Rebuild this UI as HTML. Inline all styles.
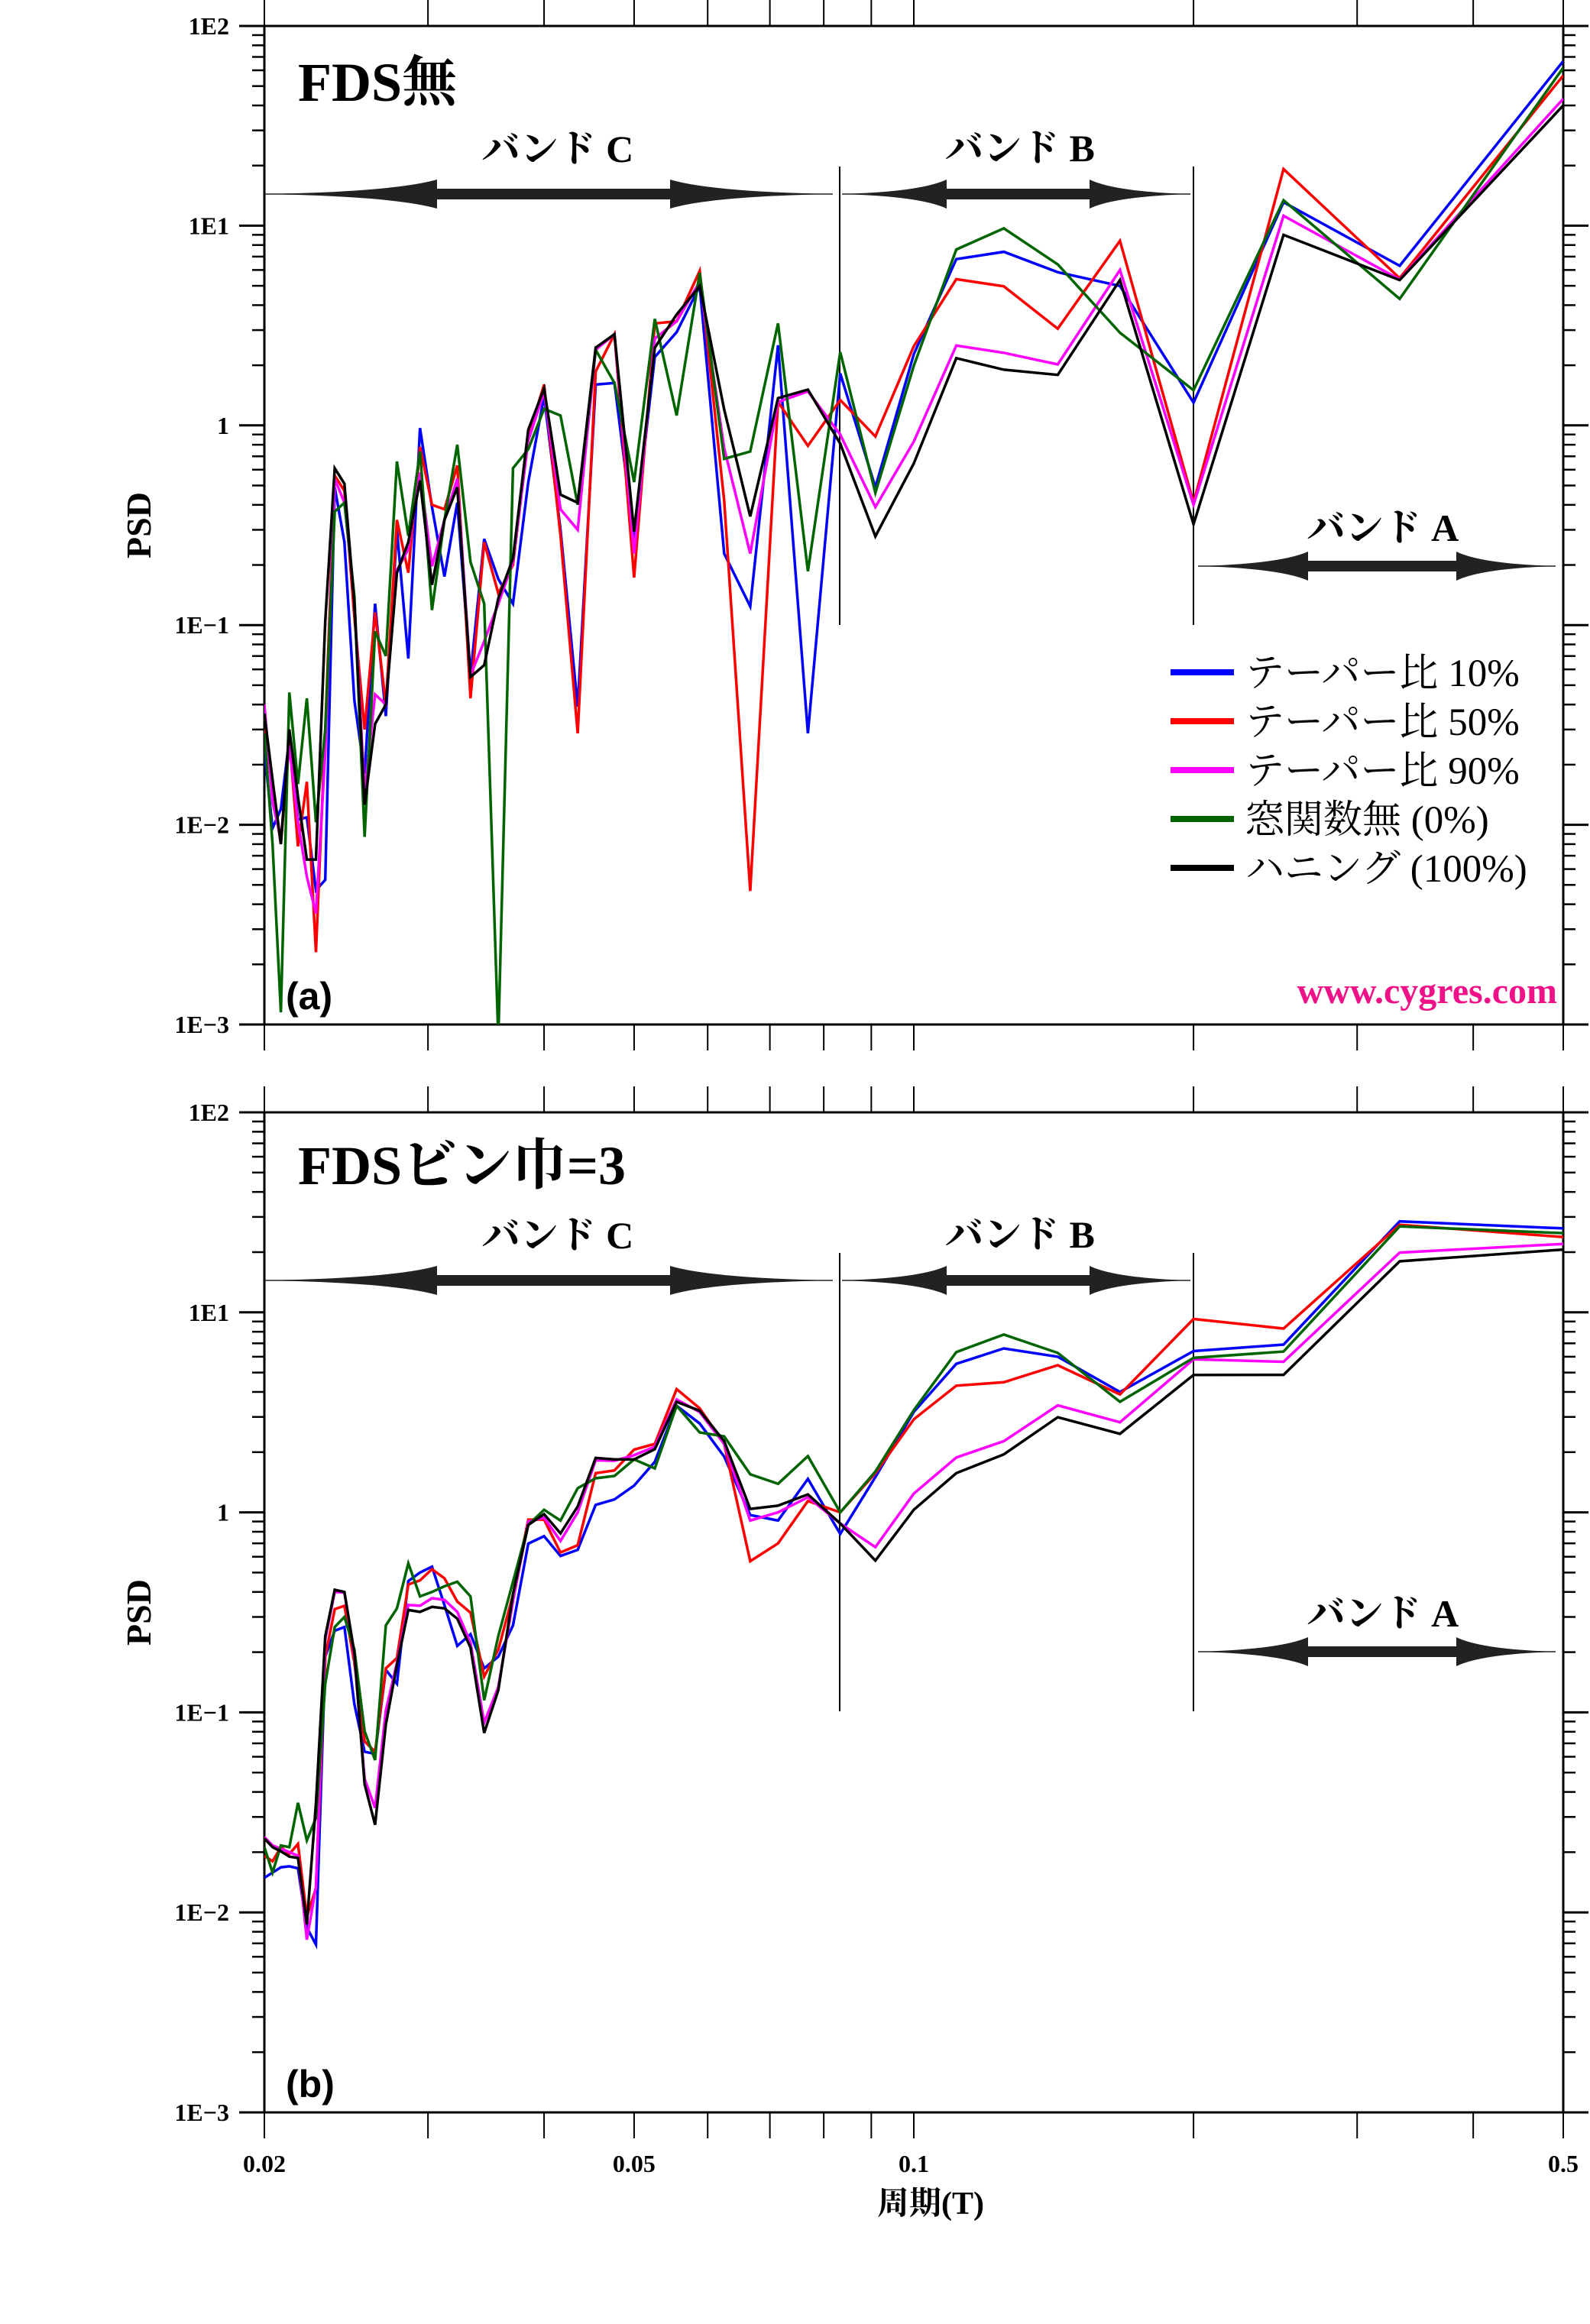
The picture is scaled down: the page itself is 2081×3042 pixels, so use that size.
<!DOCTYPE html>
<html><head><meta charset="utf-8"><style>
html,body{margin:0;padding:0;background:#fff;}
svg{display:block;}
text{font-family:"Liberation Serif","Noto Serif CJK JP",serif;}
</style></head><body>
<svg id="chart" width="2081" height="3042" viewBox="0 0 2081 3042" xmlns="http://www.w3.org/2000/svg">
<defs>
<clipPath id="clipA"><rect x="346" y="34" width="1700" height="1307"/></clipPath>
<clipPath id="clipB"><rect x="346" y="1456" width="1700" height="1309"/></clipPath>
</defs>
</svg>
<script>
// harmonic numbers; period T = 1/n
const harmonics = [50,49,48,47,46,45,44,43,42,41,40,39,38,37,36,35,34,33,32,31,30,29,28,27,26,25,24,23,22,21,20,19,18,17,16,15,14,13,12,11,10,9,8,7,6,5,4,3,2];
const xTickValues = [0.02,0.03,0.04,0.05,0.06,0.07,0.08,0.09,0.1,0.2,0.3,0.4,0.5];
const xTickLabels = ["0.02","","","0.05","","","","","0.1","","","","0.5"];
const yTickExps = [-3,-2,-1,0,1,2];
const yTickLabels = ["1E\u22123","1E\u22122","1E\u22121","1","1E1","1E2"];
const seriesNames = ["テーパー比 10%","テーパー比 50%","テーパー比 90%","窓関数無 (0%)","ハニング (100%)"];
const seriesColors = ["#0000ff","#ff0000","#ff00ff","#006400","#000000"];

const topBlue = [0.0235,0.0096,0.012,0.027,0.0106,0.0109,0.0047,0.0053, 0.49,0.26,0.042,0.018,0.128,0.035,0.30,0.068, 0.97,0.39,0.175,0.41,0.056,0.27,0.17,0.128, 0.52,1.4,0.3,0.039,1.6,1.63,0.27,2.2, 2.93,4.98,0.228,0.124,2.52,0.0287,1.82,0.49, 2.27,6.8,7.4,5.85,4.99,1.30,13.1,6.3, 66.7];
const topRed = [0.030,0.015,0.008,0.027,0.0078,0.0164,0.0023,0.03, 0.56,0.47,0.11,0.030,0.116,0.040,0.336,0.183, 0.78,0.40,0.38,0.63,0.043,0.26,0.144,0.20, 0.88,1.6,0.28,0.0287,1.86,2.86,0.173,3.24, 3.32,5.94,0.42,0.00466,1.31,0.79,1.34,0.88, 2.49,5.4,4.97,3.05,8.4,0.41,19.2,5.46, 56.5];
const topMagenta = [0.040,0.013,0.0085,0.025,0.0103,0.0055,0.0036,0.023, 0.54,0.41,0.134,0.0145,0.045,0.040,0.188,0.24, 0.58,0.197,0.336,0.54,0.056,0.083,0.128,0.207, 0.84,1.47,0.38,0.30,2.39,2.86,0.228,2.72, 3.32,5.25,0.77,0.228,1.31,1.48,0.9,0.39, 0.83,2.51,2.31,2.02,6.0,0.40,11.2,5.38, 43.2];
const topGreen = [0.0286,0.008,0.00115,0.046,0.016,0.043,0.0103,0.03, 0.37,0.41,0.14,0.0087,0.093,0.070,0.66,0.28, 0.74,0.119,0.336,0.80,0.207,0.128,0.00085,0.61, 0.76,1.21,1.12,0.40,2.39,1.63,0.52,3.41, 1.12,5.8,0.68,0.74,3.24,0.186,2.33,0.46, 1.99,7.6,9.7,6.4,2.91,1.50,13.4,4.3, 61.8];
const topBlack = [0.036,0.0168,0.008,0.030,0.0138,0.0067,0.0067,0.105, 0.61,0.51,0.128,0.0126,0.032,0.040,0.183,0.26, 0.53,0.159,0.336,0.49,0.055,0.063,0.136,0.216, 0.95,1.53,0.45,0.41,2.45,2.86,0.294,2.45, 3.59,4.98,1.2,0.35,1.37,1.51,0.81,0.278, 0.645,2.17,1.90,1.79,5.34,0.32,9.0,5.34, 40.0];

const botBlue = [0.0149,0.0158,0.0168,0.017,0.0166,0.0084,0.0069,0.19, 0.256,0.267,0.110,0.0636,0.062,0.163,0.139,0.453, 0.5,0.535,0.344,0.215,0.246,0.166,0.19,0.272, 0.698,0.76,0.605,0.65,1.09,1.16,1.36,1.79, 3.41,2.78,1.90,0.97,0.91,1.47,0.78,1.5, 3.18,5.53,6.6,6.0,4.0,6.4,6.9,28.5, 26.3];
const botRed = [0.0192,0.018,0.0212,0.0196,0.022,0.0095,0.0132,0.19, 0.328,0.341,0.177,0.0716,0.0636,0.166,0.187,0.436, 0.457,0.52,0.468,0.358,0.315,0.151,0.206,0.387, 0.92,0.92,0.63,0.685,1.57,1.62,2.06,2.2, 4.13,3.31,2.2,0.57,0.70,1.14,1.0,1.57, 2.92,4.3,4.47,5.44,3.89,9.26,8.3,27.4, 23.8];
const botMagenta = [0.0238,0.0216,0.0208,0.020,0.0192,0.0073,0.0134,0.232, 0.40,0.397,0.19,0.0465,0.0333,0.102,0.177,0.344, 0.341,0.372,0.365,0.318,0.223,0.0888,0.134,0.36, 0.90,0.94,0.72,1.0,1.82,1.81,1.93,2.13, 3.67,3.17,2.2,0.91,1.0,1.19,0.88,0.67, 1.24,1.88,2.27,3.43,2.82,5.82,5.66,19.9, 22.0];
const botGreen = [0.0212,0.0158,0.0216,0.0212,0.0353,0.0229,0.0296,0.139, 0.267,0.30,0.206,0.0805,0.0577,0.272,0.331,0.556, 0.38,0.40,0.427,0.45,0.38,0.115,0.241,0.45, 0.865,1.03,0.91,1.32,1.48,1.52,1.84,1.66, 3.41,2.51,2.40,1.55,1.39,1.91,1.0,1.6, 3.24,6.33,7.74,6.27,3.57,5.92,6.37,26.9, 24.9];
const botBlack = [0.0234,0.0212,0.0202,0.019,0.0187,0.0087,0.035,0.24, 0.41,0.40,0.198,0.0438,0.0274,0.087,0.173,0.325, 0.318,0.337,0.331,0.294,0.211,0.0789,0.129,0.39, 0.865,0.98,0.785,1.07,1.87,1.84,1.84,2.07, 3.57,3.22,2.27,1.04,1.08,1.23,0.88,0.574, 1.03,1.57,1.95,2.99,2.47,4.86,4.87,18.0, 20.6];

const topSeries = [topBlue, topRed, topMagenta, topGreen, topBlack];
const botSeries = [botBlue, botRed, botMagenta, botGreen, botBlack];

const NS = "http://www.w3.org/2000/svg";
const svg = document.getElementById("chart");
const X0 = 346, X1 = 2046, TMIN = 0.02, TMAX = 0.5;
function xScale(t){ return X0 + (X1 - X0) * Math.log10(t / TMIN) / Math.log10(TMAX / TMIN); }
function makeY(top, bottom){ return v => bottom - (bottom - top) * (Math.log10(v) + 3) / 5; }

function el(tag, attrs, parent){
  const e = document.createElementNS(NS, tag);
  for (const k in attrs) e.setAttribute(k, attrs[k]);
  (parent || svg).appendChild(e);
  return e;
}
function txt(x, y, s, size, opts, parent){
  const t = el("text", Object.assign({x:x, y:y, "font-size":size}, opts||{}), parent);
  t.textContent = s;
  return t;
}

function arrow(g, xa, xb, y, h1, h2, nm){
  el("line",{x1:xa,y1:y,x2:xb,y2:y,stroke:"#222","stroke-width":1.5},g);
  const hw = 19, sw = 7;
  const d = `M${xa},${y} Q${xa+0.75*(h1-xa)},${y-3} ${h1},${y-hw} L${h1},${y-sw} L${h2},${y-sw} L${h2},${y-hw} Q${xb-0.75*(xb-h2)},${y-3} ${xb},${y} Q${xb-0.75*(xb-h2)},${y+3} ${h2},${y+hw} L${h2},${y+sw} L${h1},${y+sw} L${h1},${y+hw} Q${xa+0.75*(h1-xa)},${y+3} ${xa},${y} Z`;
  const p = el("path",{d:d,fill:"#222"},g);
  
  
}

function panel(cfg){
  const {top, bottom, series, title, tag, clip, pre} = cfg;
  const y = makeY(top, bottom);
  const g = el("g",{});
  
  
  const fr = el("rect",{x:X0,y:top,width:X1-X0,height:bottom-top,fill:"none",stroke:"#000","stroke-width":3},g);
  
  
  for (let e=-3; e<=2; e++){
    const yy = y(Math.pow(10,e));
    el("line",{x1:X0-33,y1:yy,x2:X0,y2:yy,stroke:"#000","stroke-width":3},g);
    el("line",{x1:X1,y1:yy,x2:X1+33,y2:yy,stroke:"#000","stroke-width":3},g);
    const lab = txt(300, yy+11, yTickLabels[e+3], 32, {"text-anchor":"end","font-weight":"bold"}, g);
    
    
    if (e<2){
      for (let m=2;m<=9;m++){
        const ym = y(m*Math.pow(10,e));
        el("line",{x1:X0-16,y1:ym,x2:X0,y2:ym,stroke:"#000","stroke-width":2.5},g);
        el("line",{x1:X1,y1:ym,x2:X1+16,y2:ym,stroke:"#000","stroke-width":2.5},g);
      }
    }
  }
  xTickValues.forEach((t,i)=>{
    const xx = xScale(t);
    el("line",{x1:xx,y1:top-34,x2:xx,y2:top,stroke:"#000","stroke-width":2},g);
    el("line",{x1:xx,y1:bottom,x2:xx,y2:bottom+34,stroke:"#000","stroke-width":2},g);
    if (cfg.xlabels && xTickLabels[i]){
      const l = txt(xx, bottom+78, xTickLabels[i], 32, {"text-anchor":"middle","font-weight":"bold"}, g);
      
      
    }
  });
  const yc = (top+bottom)/2;
  const pl = txt(0,0,"PSD",46,{"font-weight":"bold","text-anchor":"middle",transform:`translate(197,${yc}) rotate(-90)`},g);
  
  
  const tt = txt(390, top+cfg.titleDy, title, 72, {"font-weight":"bold"}, g);
  
  
  const bl1 = el("line",{x1:1099,y1:top+184,x2:1099,y2:top+784,stroke:"#000","stroke-width":2},g);
  
  
  const bl2 = el("line",{x1:1562,y1:top+184,x2:1562,y2:top+784,stroke:"#000","stroke-width":2},g);
  
  
  const ay = top+220;
  arrow(g, 346, 1090, ay, 572, 877, 'band-c-arrow');
  arrow(g, 1102, 1558, ay, 1239, 1426, 'band-b-arrow');
  const aay = top + cfg.bandAdy;
  arrow(g, 1568, 2036, aay, 1712, 1906, 'band-a-arrow');
  const bc = txt(730, top+178, "バンド C", 50, {"text-anchor":"middle","font-weight":"bold"}, g);
   
  const bb = txt(1335, top+177, "バンド B", 50, {"text-anchor":"middle","font-weight":"bold"}, g);
   
  const ba = txt(1810, aay-33, "バンド A", 50, {"text-anchor":"middle","font-weight":"bold"}, g);
   
  const tg = txt(374, bottom-20, tag, 50, {style:"font-family:'Liberation Sans','DejaVu Sans',sans-serif;font-weight:bold"}, g);
  
  
  const sg = el("g",{"clip-path":`url(#${clip})`},g);
  series.forEach((vals,si)=>{
    const pts = vals.map((v,i)=> xScale(1/harmonics[i]).toFixed(1)+","+y(v).toFixed(1)).join(" ");
    const pl = el("polyline",{points:pts,fill:"none",stroke:seriesColors[si],"stroke-width":3.5,"stroke-linejoin":"miter"},sg);
    
    
  });
  return y;
}

panel({top:34,bottom:1341,series:topSeries,title:"FDS無",tag:"(a)",clip:"clipA",pre:"top",titleDy:98,bandAdy:707,xlabels:false});
panel({top:1456,bottom:2765,series:botSeries,title:"FDSビン巾=3",tag:"(b)",clip:"clipB",pre:"bottom",titleDy:94,bandAdy:706,xlabels:true});

const lg = el("g",{});


seriesNames.forEach((nm,i)=>{
  const yy = 880 + i*64;
  const ln = el("line",{x1:1532,y1:yy,x2:1615,y2:yy,stroke:seriesColors[i],"stroke-width":8},lg);
  
  
  const t = txt(1630, yy+18, nm, 51, {}, lg);
  
  
});
const wm = txt(2038, 1313, "www.cygres.com", 48, {"text-anchor":"end","font-weight":"bold",fill:"#ee1188"});


const xt = txt(1218, 2898, "周期(T)", 42, {"text-anchor":"middle","font-weight":"bold"});


</script>
</body></html>
